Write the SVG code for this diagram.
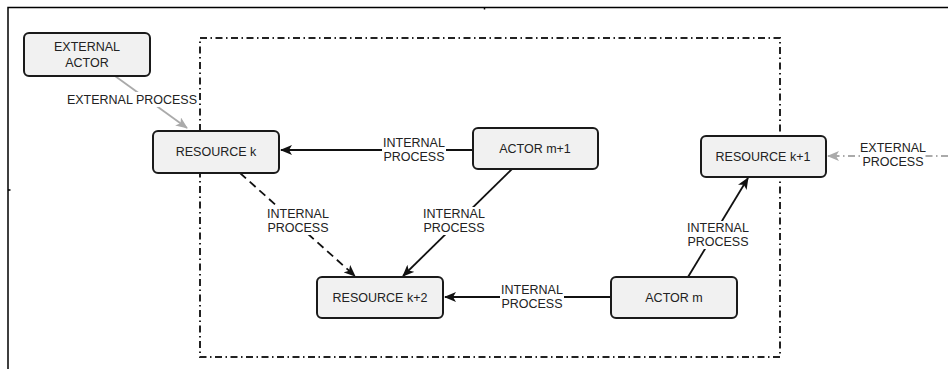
<svg xmlns="http://www.w3.org/2000/svg" width="948" height="369" viewBox="0 0 948 369">
<style>
.node rect{fill:#f1f1f1;stroke:#1a1a1a;stroke-width:2}
text{font-family:"Liberation Sans",Arial,sans-serif;font-size:12.5px;fill:#222;text-anchor:middle}
.lbl{fill:#fff}
.c{stroke:#111;stroke-width:1.8;fill:none}
.g{stroke:#aaa;stroke-width:1.8;fill:none}
</style>
<defs>
<marker id="ah" viewBox="0 0 12 10" refX="11" refY="5" markerWidth="12" markerHeight="10" markerUnits="userSpaceOnUse" orient="auto">
<path d="M0,0 L12,5 L0,10 L3,5 z" fill="#111"/>
</marker>
<marker id="ahg" viewBox="0 0 12 10" refX="11" refY="5" markerWidth="12" markerHeight="10" markerUnits="userSpaceOnUse" orient="auto">
<path d="M0,0 L12,5 L0,10 L3,5 z" fill="#aaa"/>
</marker>
</defs>
<rect width="948" height="369" fill="#fff"/>
<g id="page-frame" stroke="#000" stroke-width="1.5" fill="none">
<path d="M8,369 V7.5 H948"/>
<path d="M484.5,7 V9.5"/>
<path d="M8,190 H10.5"/>
</g>
<rect id="boundary" x="200" y="38" width="580" height="319" fill="none" stroke="#222" stroke-width="2" stroke-dasharray="7 3.5 1.5 3.5"/>
<g id="connectors">
<line class="g" x1="115" y1="76" x2="187" y2="128" marker-end="url(#ahg)"/>
<line class="g" x1="948" y1="156" x2="828" y2="156" stroke-dasharray="7 3.5 1.5 3.5" marker-end="url(#ahg)"/>
<line class="c" x1="473" y1="150" x2="281" y2="150" marker-end="url(#ah)"/>
<line class="c" x1="512" y1="169" x2="403" y2="276" marker-end="url(#ah)"/>
<line class="c" x1="240" y1="173" x2="355" y2="276" stroke-dasharray="8 5" marker-end="url(#ah)"/>
<line class="c" x1="611" y1="297" x2="445" y2="297" marker-end="url(#ah)"/>
<line class="c" x1="688" y1="277" x2="748" y2="178" marker-end="url(#ah)"/>
<g id="labels">
<rect class="lbl" x="66" y="92" width="132" height="15"/>
<text x="132" y="104">EXTERNAL PROCESS</text>
<rect class="lbl" x="861" y="141" width="64" height="28"/>
<text x="893" y="152">EXTERNAL</text><text x="893" y="166">PROCESS</text>
<rect class="lbl" x="382" y="136" width="64" height="28"/>
<text x="414" y="147">INTERNAL</text><text x="414" y="161">PROCESS</text>
<rect class="lbl" x="422" y="207" width="64" height="28"/>
<text x="454" y="218">INTERNAL</text><text x="454" y="232">PROCESS</text>
<rect class="lbl" x="266" y="207" width="64" height="28"/>
<text x="298" y="218">INTERNAL</text><text x="298" y="232">PROCESS</text>
<rect class="lbl" x="500" y="283" width="64" height="28"/>
<text x="532" y="294">INTERNAL</text><text x="532" y="308">PROCESS</text>
<rect class="lbl" x="686" y="221" width="64" height="28"/>
<text x="718" y="232">INTERNAL</text><text x="718" y="246">PROCESS</text>
</g>
</g>
<g id="external-actor" class="node"><rect x="24" y="33" width="126" height="43" rx="5"/><text x="87" y="51">EXTERNAL</text><text x="87" y="67">ACTOR</text></g>
<g id="resource-k" class="node"><rect x="153" y="131" width="126" height="42" rx="5"/><text x="216" y="156">RESOURCE k</text></g>
<g id="actor-m1" class="node"><rect x="473" y="128" width="125" height="41" rx="5"/><text x="535" y="153">ACTOR m+1</text></g>
<g id="resource-k1" class="node"><rect x="701" y="136" width="125" height="41" rx="5"/><text x="763" y="161">RESOURCE k+1</text></g>
<g id="resource-k2" class="node"><rect x="317" y="277" width="126" height="41" rx="5"/><text x="380" y="302">RESOURCE k+2</text></g>
<g id="actor-m" class="node"><rect x="611" y="277" width="126" height="41" rx="5"/><text x="674" y="302">ACTOR m</text></g>
</svg>
